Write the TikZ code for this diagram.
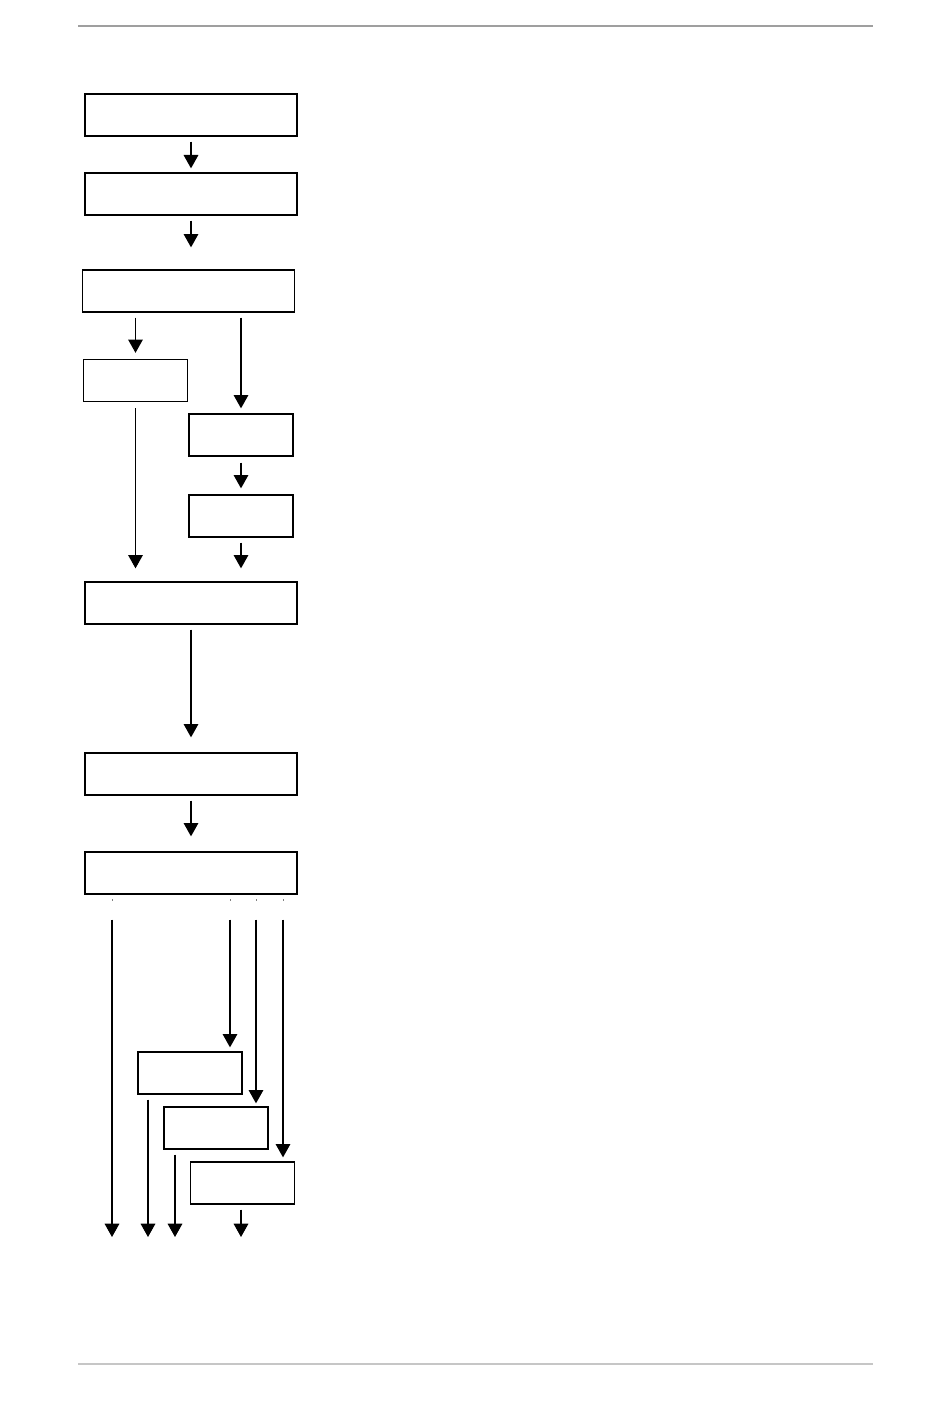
\documentclass[tikz,border=0pt]{standalone}
\usetikzlibrary{arrows.meta,calc}
\tikzset{
  box/.style={draw,line width=1pt,minimum width=159pt,minimum height=31.5pt,inner sep=0pt},
  sbox/.style={box,minimum width=78pt},
  arr/.style={-{Triangle[width=11pt,length=10pt]},line width=0.8pt},
}
\begin{document}
\begin{tikzpicture}[x=0.75pt,y=-0.75pt]
  \useasboundingbox (0,0) rectangle (950,1409);
  % page rules
  \draw[gray!75,line width=1pt] (78,26) -- (873,26);
  \draw[gray!45,line width=1.5pt] (78,1364) -- (873,1364);
  % boxes
  \node[box] (b1) at (191,115) {};
  \node[box] (b2) at (191,194) {};
  \node[box] (b3) at (188.5,291) {};
  \node[sbox] (b4) at (135.5,380.5) {};
  \node[sbox] (b5) at (241,435) {};
  \node[sbox] (b6) at (241,516) {};
  \node[box] (b7) at (191,603) {};
  \node[box] (b8) at (191,774) {};
  \node[box] (b9) at (191,873) {};
  \node[sbox] (b10) at (190,1073) {};
  \node[sbox] (b11) at (216,1128) {};
  \node[sbox] (b12) at (242.5,1183) {};
  \coordinate (t1) at (112,900);
  \coordinate (t2) at (230,900);
  \coordinate (t3) at (256,900);
  \coordinate (t4) at (283,900);
  \coordinate (e1) at (112,1237);
  \coordinate (e2) at (148,1237);
  \coordinate (e3) at (175,1237);
  \coordinate (e4) at (241,1237);
  % arrows
  \draw[arr,shorten <=3.75pt,shorten >=3pt] (b1) -- (b2);
  \draw[arr,shorten <=3.75pt,shorten >=16.5pt] (b2) -- (b2 |- b3.north);
  \draw[arr,shorten <=3.75pt,shorten >=4.5pt] (b3.south -| b4) -- (b4);
  \draw[arr,shorten <=3.75pt,shorten >=3.75pt] (b3.south -| b5) -- (b5);
  \draw[arr,shorten <=4.5pt,shorten >=4.5pt] (b5) -- (b6);
  \draw[arr,shorten <=3.75pt,shorten >=9.75pt] (b6) -- (b6 |- b7.north);
  \draw[arr,shorten <=4.5pt,shorten >=9.75pt] (b4) -- (b4 |- b7.north);
  \draw[arr,shorten <=3.75pt,shorten >=11.25pt] (b7) -- (b8);
  \draw[arr,shorten <=3.75pt,shorten >=11.25pt] (b8) -- (b9);
  \foreach \t in {t1,t2,t3,t4}
    \draw[gray,line width=0.5pt] ($(\t)+(0,-1)$) -- ($(\t)+(0,1)$);
  \draw[arr,shorten <=18.75pt,shorten >=3pt] (b9.south -| t2) -- (t2 |- b10.north);
  \draw[arr,shorten <=18.75pt,shorten >=2.25pt] (b9.south -| t3) -- (t3 |- b11.north);
  \draw[arr,shorten <=18.75pt,shorten >=3pt] (b9.south -| t4) -- (t4 |- b12.north);
  \draw[arr,shorten <=18.75pt] (b9.south -| e1) -- (e1);
  \draw[arr,shorten <=3.75pt] (b10.south -| e2) -- (e2);
  \draw[arr,shorten <=3.75pt] (b11.south -| e3) -- (e3);
  \draw[arr,shorten <=3.75pt] (b12.south -| e4) -- (e4);
\end{tikzpicture}
\end{document}
